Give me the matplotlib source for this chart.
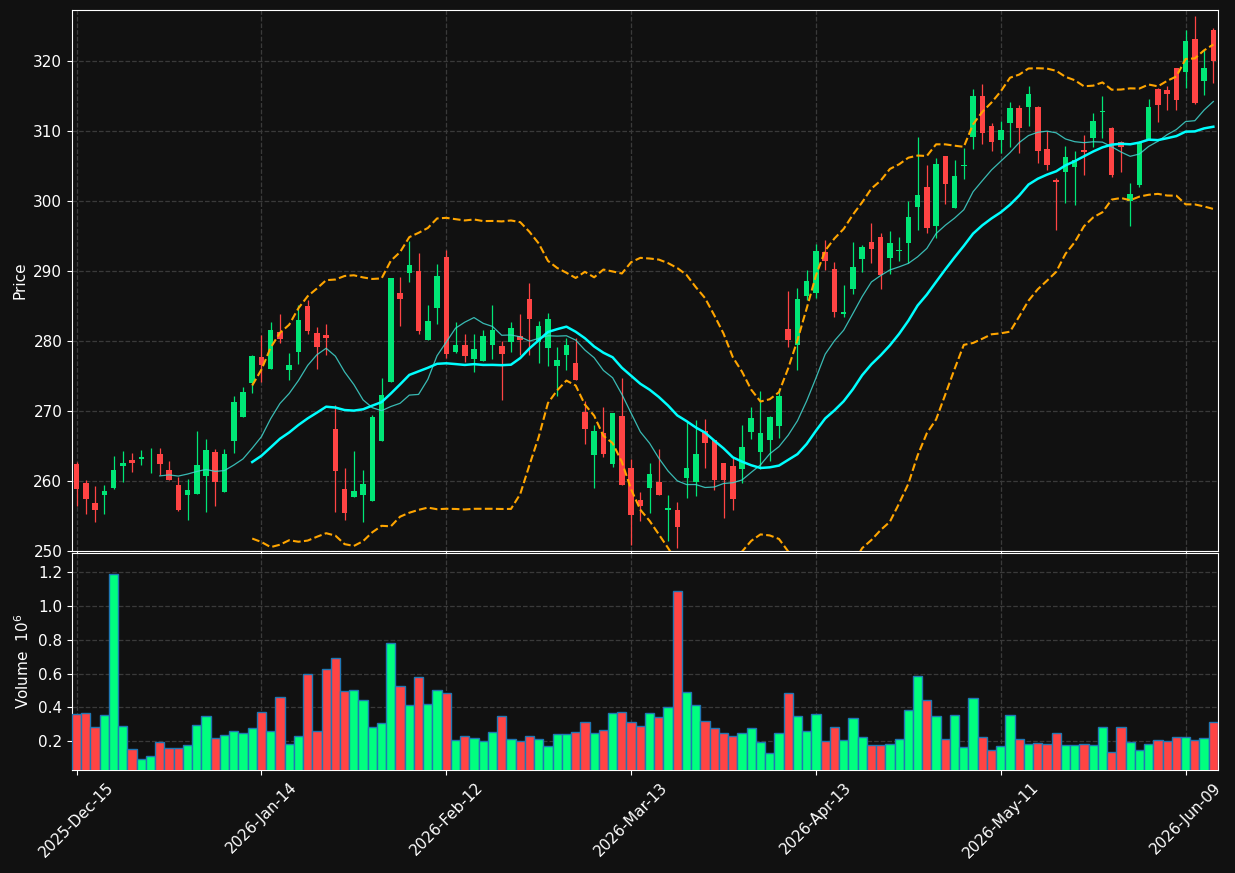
import numpy as np
import pandas as pd
import matplotlib
matplotlib.use("Agg")
import matplotlib.pyplot as plt

# OHLC, one row per trading bar
opens = [262.5, 259.7, 256.9, 257.95, 259.0, 262.1, 263.0, 263.2, 263.8, 263.8,
         261.6, 259.4, 257.95, 258.1, 260.7, 264.1, 258.4, 265.7, 269.2, 274.0,
         277.7, 276.0, 281.3, 275.8, 278.4, 285.0, 281.1, 280.8, 267.5, 258.9,
         257.7, 258.0, 257.1, 265.7, 274.1, 286.9, 289.7, 290.05, 280.1, 284.7,
         292.05, 278.5, 279.4, 277.4, 277.1, 279.5, 279.3, 279.8, 280.7, 286.0,
         279.8, 278.95, 276.4, 277.95, 276.9, 269.9, 263.7, 266.9, 262.5, 269.3,
         261.9, 257.3, 259.0, 259.9, 255.8, 255.8, 260.5, 259.9, 267.2, 265.85,
         262.6, 262.2, 261.7, 266.95, 264.2, 265.9, 267.9, 281.75, 279.4, 286.5,
         286.85, 292.7, 290.3, 283.8, 287.5, 291.7, 294.1, 294.9, 291.8, 292.8,
         293.95, 299.1, 302.0, 296.5, 306.5, 298.95, 305.0, 309.2, 315.05, 310.8,
         308.8, 311.1, 313.3, 313.4, 313.5, 307.5, 303.0, 304.1, 304.9, 307.3,
         309.0, 312.7, 310.5, 308.5, 300.0, 302.3, 308.9, 316.0, 315.9, 319.0,
         318.4, 323.2, 317.2, 324.5]
highs = [262.7, 260.1, 259.3, 259.4, 263.6, 264.3, 264.0, 264.5, 264.7, 264.7,
         262.9, 260.6, 260.3, 267.1, 266.0, 264.6, 264.6, 272.1, 273.4, 278.0,
         280.8, 282.7, 283.85, 278.3, 285.2, 285.8, 282.0, 282.5, 270.9, 261.85,
         264.3, 261.6, 269.4, 274.7, 289.0, 289.2, 294.3, 292.6, 285.2, 291.0,
         293.0, 282.7, 281.0, 281.0, 281.6, 285.1, 280.0, 282.7, 283.9, 288.3,
         282.9, 284.0, 279.2, 280.4, 280.4, 271.4, 268.0, 270.6, 269.7, 274.7,
         263.1, 258.4, 262.6, 264.6, 257.95, 257.0, 268.5, 268.7, 268.85, 265.85,
         262.6, 263.3, 268.0, 270.6, 272.85, 269.3, 273.1, 287.1, 287.6, 290.1,
         293.8, 294.4, 291.3, 288.0, 294.2, 293.7, 296.85, 295.5, 295.7, 294.9,
         299.95, 309.2, 305.1, 306.1, 306.5, 305.9, 307.6, 316.0, 316.7, 311.1,
         311.4, 314.1, 313.8, 316.4, 313.6, 310.0, 303.3, 307.9, 307.1, 309.4,
         312.6, 315.0, 310.6, 308.6, 302.6, 308.6, 314.6, 316.1, 316.5, 319.0,
         324.4, 326.4, 321.6, 324.8]
lows = [256.5, 255.3, 254.1, 255.3, 258.8, 259.9, 261.3, 262.3, 261.1, 260.9,
        260.2, 255.7, 254.4, 258.1, 255.6, 256.4, 258.4, 263.95, 269.2, 272.6,
        274.2, 276.0, 279.7, 274.5, 276.7, 281.0, 276.0, 277.95, 255.6, 254.4,
        257.7, 254.1, 257.1, 265.7, 274.1, 282.1, 288.4, 281.0, 280.1, 282.5,
        277.6, 278.3, 277.0, 275.6, 277.1, 277.5, 271.6, 278.4, 277.95, 277.95,
        276.8, 276.4, 272.1, 275.8, 274.5, 265.3, 259.0, 263.5, 262.0, 259.4,
        250.9, 254.3, 255.5, 258.0, 251.5, 250.4, 257.6, 257.9, 261.9, 258.7,
        254.7, 255.8, 259.7, 266.0, 261.7, 262.9, 266.1, 279.1, 275.8, 285.8,
        286.1, 290.2, 283.5, 283.5, 286.7, 289.8, 291.1, 287.4, 289.6, 291.5,
        291.2, 295.9, 295.4, 294.7, 299.6, 298.95, 303.2, 307.4, 308.1, 307.1,
        306.9, 307.7, 306.9, 310.8, 305.5, 304.5, 295.8, 299.7, 299.4, 303.7,
        307.7, 309.0, 303.5, 304.2, 296.5, 302.0, 308.9, 311.3, 313.0, 313.0,
        316.2, 313.9, 315.1, 316.9]
closes = [258.8, 257.5, 255.8, 258.6, 261.6, 262.6, 262.6, 263.5, 263.9, 262.5,
          260.2, 255.8, 258.7, 262.3, 264.5, 259.8, 263.8, 271.3, 272.7, 277.9,
          276.6, 281.6, 280.3, 276.6, 283.0, 281.4, 279.1, 280.5, 261.4, 255.4,
          258.6, 259.6, 269.2, 272.3, 289.0, 286.0, 290.8, 281.5, 282.8, 289.3,
          278.1, 279.4, 277.8, 278.9, 280.7, 281.6, 278.2, 281.9, 280.2, 283.1,
          282.1, 283.1, 277.3, 279.4, 274.5, 267.4, 267.2, 263.8, 269.7, 259.4,
          255.2, 256.4, 261.0, 258.0, 256.2, 253.4, 261.9, 263.8, 265.5, 260.1,
          260.2, 257.5, 264.9, 269.0, 266.8, 269.2, 272.2, 280.2, 286.0, 288.6,
          292.85, 291.5, 284.1, 284.1, 290.6, 293.4, 293.1, 289.4, 294.0, 293.0,
          297.8, 300.9, 296.1, 305.3, 302.5, 303.6, 305.1, 315.05, 309.8, 308.4,
          310.2, 313.3, 310.4, 315.3, 307.2, 305.2, 302.7, 306.3, 305.9, 307.0,
          311.5, 312.8, 303.8, 307.8, 301.0, 308.5, 313.5, 313.7, 315.3, 314.4,
          322.9, 314.0, 319.0, 320.05]
# volume in millions
volumes = [0.359, 0.365, 0.282, 0.353, 1.188, 0.288, 0.153, 0.094, 0.112, 0.194,
           0.159, 0.159, 0.176, 0.294, 0.347, 0.218, 0.235, 0.259, 0.247, 0.276,
           0.371, 0.259, 0.459, 0.182, 0.229, 0.600, 0.259, 0.629, 0.694, 0.500,
           0.506, 0.447, 0.282, 0.306, 0.782, 0.524, 0.412, 0.582, 0.418, 0.506,
           0.488, 0.206, 0.229, 0.218, 0.200, 0.253, 0.347, 0.212, 0.200, 0.229,
           0.212, 0.171, 0.241, 0.241, 0.253, 0.312, 0.247, 0.265, 0.365, 0.376,
           0.312, 0.288, 0.365, 0.341, 0.400, 1.088, 0.494, 0.412, 0.318, 0.276,
           0.247, 0.229, 0.247, 0.276, 0.194, 0.129, 0.247, 0.488, 0.347, 0.259,
           0.359, 0.200, 0.282, 0.206, 0.335, 0.224, 0.176, 0.176, 0.182, 0.212,
           0.382, 0.588, 0.447, 0.347, 0.212, 0.353, 0.165, 0.453, 0.224, 0.147,
           0.171, 0.353, 0.212, 0.182, 0.188, 0.182, 0.247, 0.176, 0.176, 0.182,
           0.176, 0.282, 0.135, 0.282, 0.194, 0.147, 0.182, 0.206, 0.200, 0.224,
           0.224, 0.206, 0.218, 0.312]

tick_pos = [0, 20, 40, 60, 80, 100, 120]
tick_labels = ["2025-Dec-15", "2026-Jan-14", "2026-Feb-12", "2026-Mar-13",
               "2026-Apr-13", "2026-May-11", "2026-Jun-09"]

df = pd.DataFrame({"Open": opens, "High": highs, "Low": lows,
                   "Close": closes, "Volume": volumes})
x = np.arange(len(df))
up = df["Close"] >= df["Open"]

bg = "#111111"
up_c, down_c = "#00e676", "#ff4444"
vol_up, vol_down = "#00ff7f", "#ff4444"
grid_c = "#3a3a3a"

ma10 = df["Close"].rolling(10).mean()
ma20 = df["Close"].rolling(20).mean()
sd20 = df["Close"].rolling(20).std(ddof=0)
bb_hi = ma20 + 2 * sd20
bb_lo = ma20 - 2 * sd20

fig = plt.figure(figsize=(12.35, 8.73), dpi=100, facecolor=bg)
ax = fig.add_axes([0.0583, 0.3688, 0.9279, 0.6197], facecolor=bg)
axv = fig.add_axes([0.0583, 0.118, 0.9279, 0.2486], facecolor=bg, sharex=ax)

# candles
body = (df["Close"] - df["Open"]).abs().clip(lower=0.12)
bottom = df[["Open", "Close"]].min(axis=1)
colors = np.where(up, up_c, down_c)
ax.vlines(x, df["Low"], df["High"], colors=colors, linewidth=0.9, zorder=3)
ax.bar(x, body, bottom=bottom, width=0.6, color=colors, linewidth=0, zorder=4)

ax.plot(x, ma10, color="#40d8d0", linewidth=0.9, alpha=0.85, zorder=5)
ax.plot(x, ma20, color="#00ffff", linewidth=1.8, zorder=5)
ax.plot(x, bb_hi, color="#ffa500", linewidth=1.5, linestyle="--", zorder=5)
ax.plot(x, bb_lo, color="#ffa500", linewidth=1.5, linestyle="--", zorder=5)

ax.set_ylim(250, 327.3)
ax.set_yticks(range(250, 330, 10))
ax.set_ylabel("Price", color="white", fontsize=11)
plt.setp(ax.get_xticklabels(), visible=False)

# volume
vcolors = np.where(up, vol_up, vol_down)
axv.bar(x, df["Volume"], width=1.0, color=vcolors, edgecolor="#1f77b4",
        linewidth=1.0, zorder=3)
axv.set_ylim(0.03, 1.314)
axv.set_yticks([0.2, 0.4, 0.6, 0.8, 1.0, 1.2])
axv.set_ylabel("Volume  $10^6$", color="white", fontsize=11)

axv.set_xlim(-0.5, len(df) - 0.5)
axv.set_xticks(tick_pos)
axv.set_xticklabels(tick_labels, rotation=45, ha="center")

for a in (ax, axv):
    a.grid(True, color=grid_c, linestyle="--", linewidth=0.9)
    a.set_axisbelow(True)
    a.tick_params(colors="white", labelsize=11)
    for s in a.spines.values():
        s.set_color("white")

fig.savefig("out.png", facecolor=bg)
